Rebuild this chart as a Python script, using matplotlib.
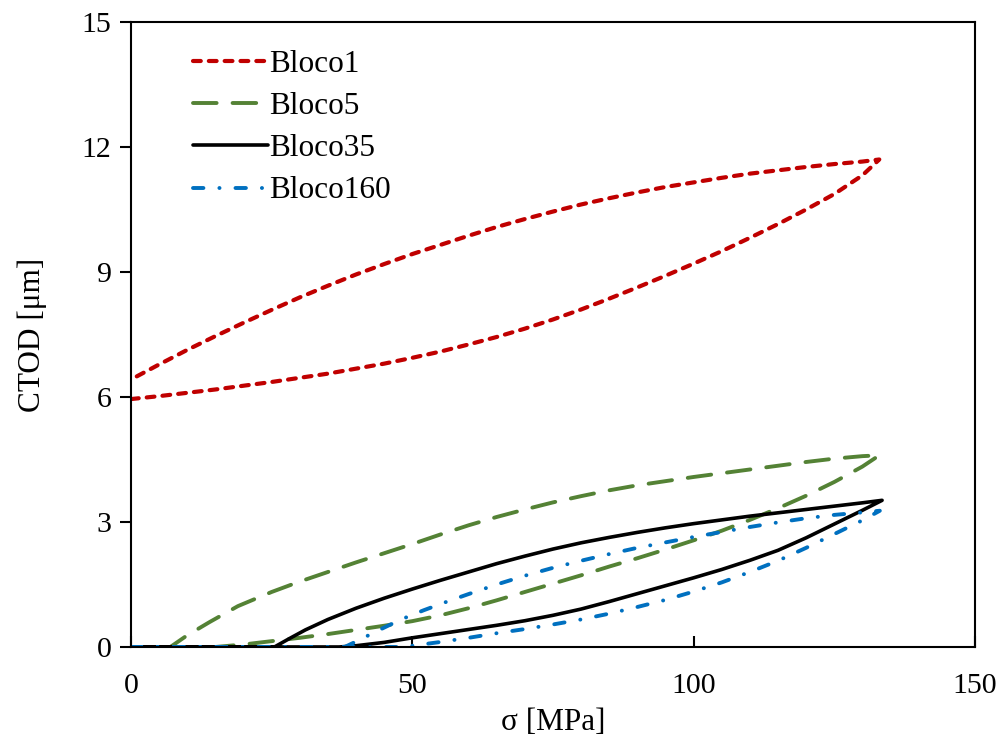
import matplotlib
matplotlib.use("Agg")
import matplotlib.pyplot as plt
import numpy as np

plt.rcParams['font.family'] = ['Liberation Serif', 'DejaVu Serif']
plt.rcParams['lines.scale_dashes'] = False

# Bloco1: loading (lower) and unloading (upper) branches
b1_load_s = [0, 5, 10, 15, 20, 25, 30, 35, 40, 45, 50, 55, 60, 65, 70, 75, 80,
             85, 90, 95, 100, 105, 110, 115, 120, 125, 130, 133]
b1_load_v = [5.95, 6.02, 6.1, 6.18, 6.27, 6.36, 6.46, 6.56, 6.68, 6.8, 6.94, 7.09,
             7.26, 7.44, 7.64, 7.86, 8.1, 8.36, 8.63, 8.91, 9.2, 9.5, 9.82, 10.15,
             10.5, 10.87, 11.32, 11.7]
b1_unl_s = [133, 130, 125, 120, 115, 110, 105, 100, 95, 90, 85, 80, 75, 70, 65,
            60, 55, 50, 45, 40, 35, 30, 25, 20, 15, 10, 5, 0]
b1_unl_v = [11.7, 11.65, 11.59, 11.52, 11.44, 11.36, 11.26, 11.15, 11.04, 10.91,
            10.77, 10.62, 10.45, 10.27, 10.08, 9.87, 9.65, 9.43, 9.19, 8.94, 8.67,
            8.39, 8.09, 7.78, 7.46, 7.13, 6.78, 6.42]

# Bloco5
b5_load_s = [0, 10, 15, 20, 25, 30, 35, 40, 45, 50, 55, 60, 65, 70, 75, 80, 85,
             90, 95, 100, 105, 110, 115, 120, 125, 130, 133]
b5_load_v = [0, 0, 0, 0.06, 0.14, 0.22, 0.31, 0.41, 0.51, 0.62, 0.76, 0.93, 1.12,
             1.32, 1.52, 1.72, 1.93, 2.13, 2.34, 2.56, 2.79, 3.05, 3.33, 3.63, 3.96,
             4.33, 4.6]
b5_unl_s = [133, 130, 125, 120, 115, 110, 105, 100, 95, 90, 85, 80, 75, 70, 65,
            60, 55, 50, 45, 40, 35, 30, 25, 19, 14, 10, 7, 0]
b5_unl_v = [4.6, 4.58, 4.52, 4.44, 4.35, 4.26, 4.17, 4.08, 3.98, 3.88, 3.76, 3.62,
            3.47, 3.3, 3.12, 2.92, 2.7, 2.47, 2.25, 2.03, 1.8, 1.57, 1.32, 0.98,
            0.6, 0.28, 0, 0]

# Bloco35
b35_load_s = [0, 37, 40, 45, 50, 55, 60, 65, 70, 75, 80, 85, 90, 95, 100, 105,
              110, 115, 120, 125, 130, 133.5]
b35_load_v = [0, 0, 0.03, 0.11, 0.22, 0.32, 0.42, 0.52, 0.63, 0.76, 0.91, 1.09,
              1.28, 1.47, 1.66, 1.86, 2.08, 2.32, 2.62, 2.95, 3.28, 3.52]
b35_unl_s = [133.5, 130, 125, 120, 115, 110, 105, 100, 95, 90, 85, 80, 75, 70,
             65, 60, 55, 50, 45, 40, 35, 31, 28, 25.5, 0]
b35_unl_v = [3.52, 3.46, 3.38, 3.3, 3.22, 3.14, 3.05, 2.96, 2.86, 2.75, 2.63, 2.5,
             2.35, 2.18, 2.0, 1.8, 1.6, 1.39, 1.17, 0.93, 0.66, 0.41, 0.19, 0, 0]

# Bloco160
b160_load_s = [0, 48, 50, 55, 60, 65, 70, 75, 80, 85, 90, 95, 100, 105, 110,
               115, 120, 125, 130, 133.1]
b160_load_v = [0, 0, 0.03, 0.12, 0.22, 0.33, 0.43, 0.54, 0.66, 0.8, 0.96, 1.13,
               1.33, 1.55, 1.8, 2.07, 2.38, 2.71, 3.04, 3.27]
b160_unl_s = [133.1, 130, 125, 120, 115, 110, 105, 100, 95, 90, 85, 80, 75, 70,
              65, 60, 56, 52, 48, 44, 40, 38, 0]
b160_unl_v = [3.27, 3.23, 3.17, 3.09, 2.99, 2.88, 2.76, 2.64, 2.51, 2.38, 2.23,
              2.07, 1.9, 1.71, 1.5, 1.27, 1.08, 0.88, 0.66, 0.4, 0.13, 0, 0]

x_ticks = [0, 50, 100, 150]
y_ticks = [0, 3, 6, 9, 12, 15]

fig = plt.figure(figsize=(10.02, 7.40), dpi=100)
ax = fig.add_axes([0.1307, 0.1257, 0.8423, 0.8446])

series = [
    ("Bloco1", b1_load_s, b1_load_v, b1_unl_s, b1_unl_v,
     dict(color="#C00000", lw=3.0, dashes=(5.6, 5.8), dash_capstyle="round")),
    ("Bloco5", b5_load_s, b5_load_v, b5_unl_s, b5_unl_v,
     dict(color="#548235", lw=2.8, dashes=(17, 11.5), dash_capstyle="round")),
    ("Bloco35", b35_load_s, b35_load_v, b35_unl_s, b35_unl_v,
     dict(color="black", lw=2.6, solid_capstyle="round")),
    ("Bloco160", b160_load_s, b160_load_v, b160_unl_s, b160_unl_v,
     dict(color="#0070C0", lw=2.8, dashes=(7.5, 11.5, 0.1, 11.5), dash_capstyle="round")),
]

for name, ls_, lv_, us_, uv_, style in series:
    s = np.concatenate([ls_, us_])
    v = np.concatenate([lv_, uv_])
    ax.plot(s, v, label=name, solid_joinstyle="round", **style)

ax.set_xlim(0, 150)
ax.set_ylim(0, 15)
ax.set_xticks(x_ticks)
ax.set_yticks(y_ticks)
ax.tick_params(axis="x", direction="in", length=8, width=1.5, labelsize=21.5, pad=19)
ax.tick_params(axis="y", direction="out", length=8, width=1.5, labelsize=21.5, pad=6)
for sp in ax.spines.values():
    sp.set_linewidth(1.5)
    sp.set_color("black")

ax.set_xlabel("σ [MPa]", fontsize=22.5, labelpad=6)
ax.set_ylabel("CTOD [μm]", fontsize=22.5, labelpad=25)

leg = ax.legend(loc="upper left", bbox_to_anchor=(0.0585, 0.975), frameon=False,
                fontsize=22.5, handlelength=2.4, handletextpad=0.04, labelspacing=0.42,
                borderaxespad=0)

fig.savefig("out.png", dpi=100)
